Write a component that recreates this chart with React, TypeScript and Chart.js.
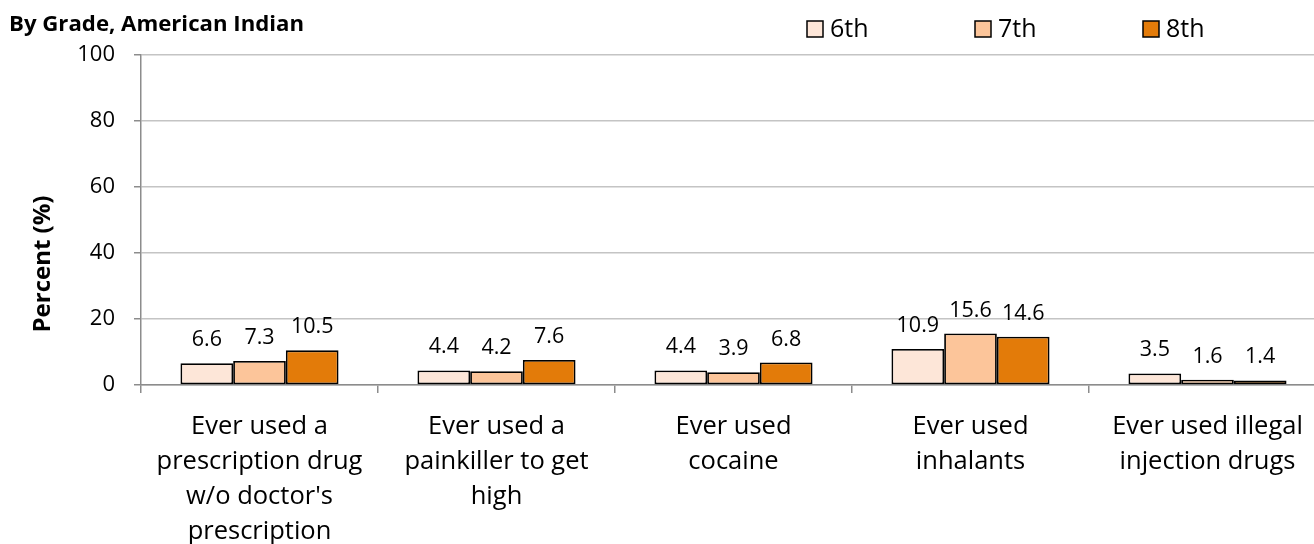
import React, { useEffect, useRef } from "react";
import { Chart, registerables } from "chart.js";

Chart.register(...registerables);

const categories: string[][] = [
  ["Ever used a", "prescription drug", "w/o doctor's", "prescription"],
  ["Ever used a", "painkiller to get", "high"],
  ["Ever used", "cocaine"],
  ["Ever used", "inhalants"],
  ["Ever used illegal", "injection drugs"],
];
const seriesNames = ["6th", "7th", "8th"];
const grade6 = [6.6, 4.4, 4.4, 10.9, 3.5];
const grade7 = [7.3, 4.2, 3.9, 15.6, 1.6];
const grade8 = [10.5, 7.6, 6.8, 14.6, 1.4];
const yTicks = [0, 20, 40, 60, 80, 100];
const titleText = "By Grade, American Indian";
const yTitle = "Percent (%)";

const colors = ["#FDE6D8", "#FCC59A", "#E37B09"];
const FONT = "'Open Sans', 'DejaVu Sans', sans-serif";

const overlayPlugin = {
  id: "overlay",
  afterDatasetsDraw(chart: any) {
    const ctx = chart.ctx;
    ctx.save();
    // data labels
    ctx.fillStyle = "#000";
    ctx.font = `21.5px ${FONT}`;
    ctx.textAlign = "center";
    ctx.textBaseline = "alphabetic";
    chart.data.datasets.forEach((ds: any, i: number) => {
      const meta = chart.getDatasetMeta(i);
      meta.data.forEach((bar: any, j: number) => {
        ctx.fillText(String(ds.data[j].toFixed(1)), bar.x, bar.y - 17);
      });
    });
    // title
    ctx.font = `bold 22.2px ${FONT}`;
    ctx.textAlign = "left";
    ctx.fillText(titleText, 9, 31);
    // y title
    ctx.save();
    ctx.translate(50, 264);
    ctx.rotate(-Math.PI / 2);
    ctx.font = `bold 24px ${FONT}`;
    ctx.textAlign = "center";
    ctx.fillText(yTitle, 0, 0);
    ctx.restore();
    // legend
    const legendX = [807, 975, 1143];
    ctx.font = `25px ${FONT}`;
    ctx.textAlign = "left";
    seriesNames.forEach((name, i) => {
      ctx.fillStyle = colors[i];
      ctx.fillRect(legendX[i], 21, 16, 16);
      ctx.strokeStyle = "#000";
      ctx.lineWidth = 1.5;
      ctx.strokeRect(legendX[i], 21, 16, 16);
      ctx.fillStyle = "#000";
      ctx.fillText(name, legendX[i] + 23, 37);
    });
    ctx.restore();
  },
};

export default function App() {
  const ref = useRef<HTMLCanvasElement | null>(null);
  useEffect(() => {
    if (!ref.current) return;
    const chart = new Chart(ref.current, {
      type: "bar",
      data: {
        labels: categories,
        datasets: [grade6, grade7, grade8].map((d, i) => ({
          label: seriesNames[i],
          data: d,
          backgroundColor: colors[i],
          borderColor: "#000",
          borderWidth: 1.8,
          borderSkipped: false,
          categoryPercentage: 0.667,
          barPercentage: 1,
        })),
      },
      options: {
        responsive: false,
        animation: false,
        devicePixelRatio: 1,
        layout: { padding: { left: 0, top: 55, right: 14, bottom: 0 } },
        plugins: {
          legend: { display: false },
          title: { display: false },
          tooltip: { enabled: false },
        },
        scales: {
          x: {
            offset: true,
            grid: {
              display: true,
              drawOnChartArea: false,
              offset: true,
              tickLength: 8,
              tickColor: "#8C8C8C",
              lineWidth: 1.5,
            },
            border: { display: true, color: "#8C8C8C", width: 1.5 },
            ticks: {
              autoSkip: false,
              maxRotation: 0,
              minRotation: 0,
              padding: 16,
              color: "#000",
              font: { family: FONT, size: 25.5, lineHeight: "35px" },
            },
            afterFit: (scale: any) => {
              scale.height = 159;
            },
          },
          y: {
            min: 0,
            max: 100,
            afterBuildTicks: (scale: any) => {
              scale.ticks = yTicks.map((v) => ({ value: v }));
            },
            grid: {
              color: "#C4C4C4",
              lineWidth: 1.5,
              tickLength: 7,
              tickColor: "#8C8C8C",
            },
            border: { display: true, color: "#8C8C8C", width: 1.5 },
            ticks: {
              padding: 19,
              color: "#000",
              font: { family: FONT, size: 22 },
            },
            afterFit: (scale: any) => {
              scale.width = 141;
            },
          },
        },
      },
      plugins: [overlayPlugin],
    });
    return () => chart.destroy();
  }, []);
  return (
    <div
      style={{
        position: "fixed",
        left: 0,
        top: 0,
        width: 1314,
        height: 544,
        overflow: "hidden",
        background: "#fff",
      }}
    >
      <canvas ref={ref} width={1340} height={544} style={{ width: 1340, height: 544, display: "block" }} />
    </div>
  );
}
